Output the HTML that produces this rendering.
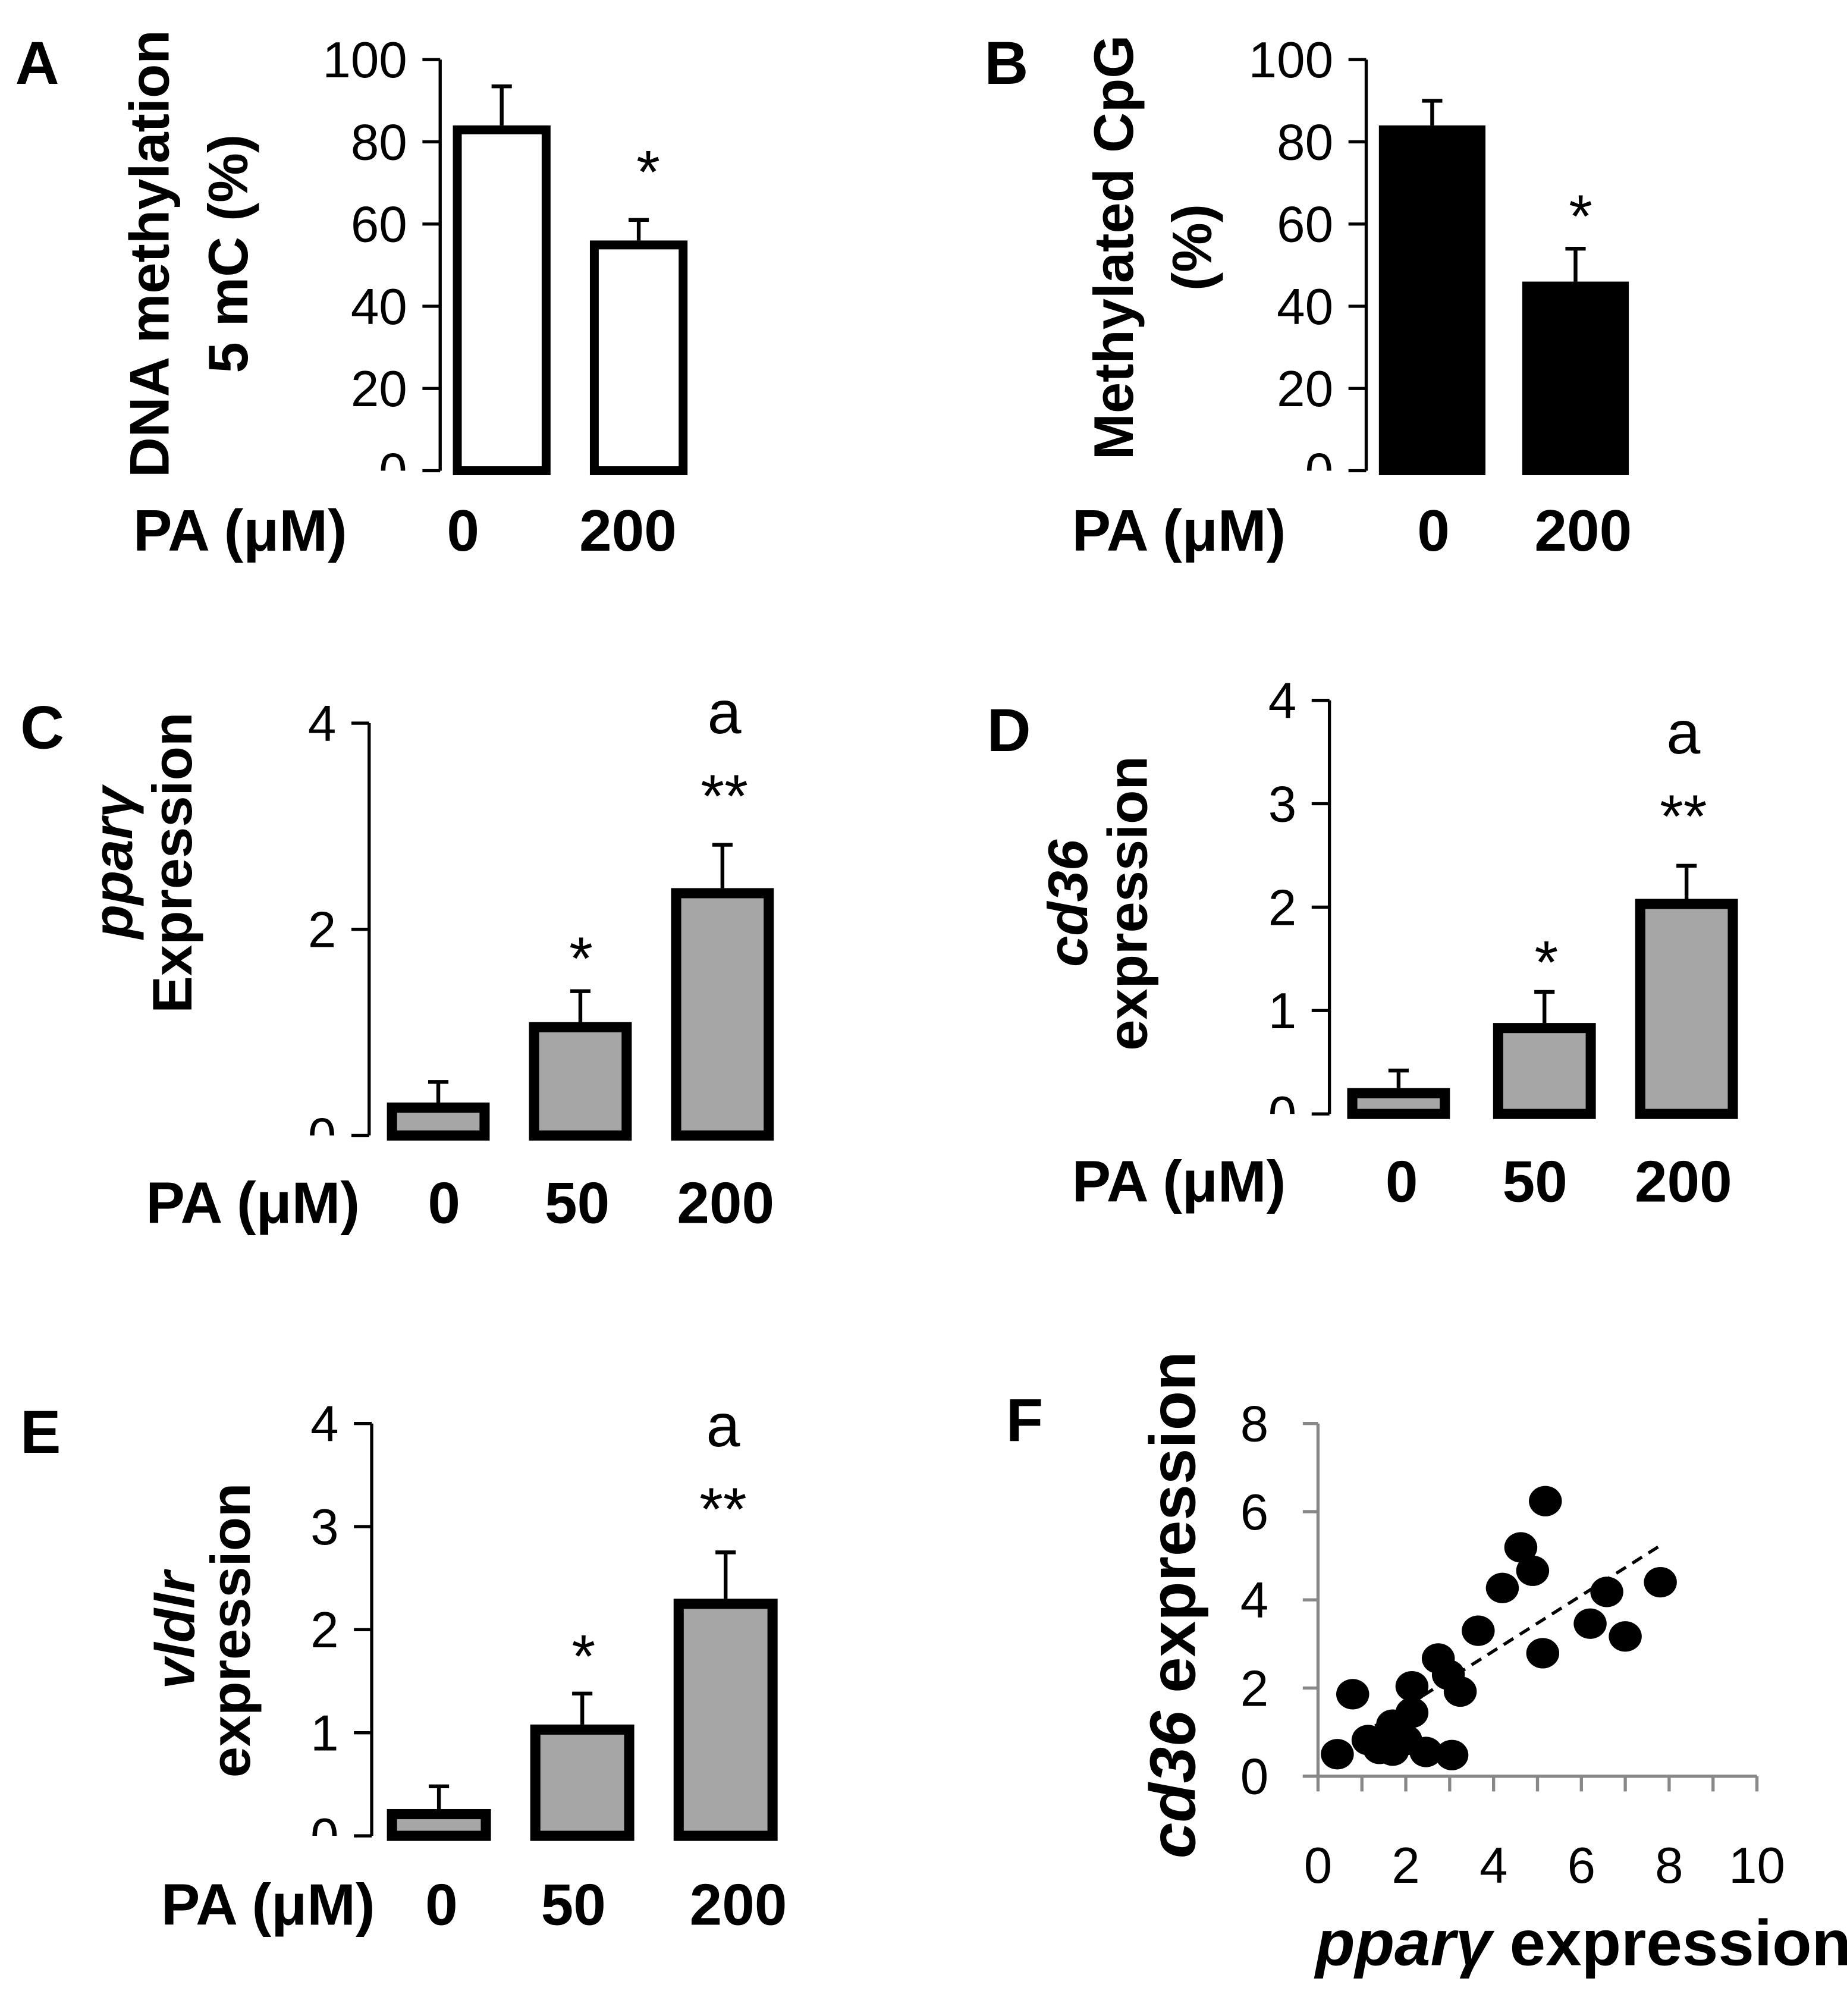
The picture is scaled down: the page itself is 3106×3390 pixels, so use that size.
<!DOCTYPE html>
<html><head><meta charset="utf-8"><style>
html,body{margin:0;padding:0;background:#fff}
svg{display:block}
text{font-family:"Liberation Sans",sans-serif}
.tk{font-size:40px;fill:#000}
.bl{font-size:46px;font-weight:bold}
.yt{font-size:44px;font-weight:bold}
.lt{font-size:48px;font-weight:bold}
.st{font-size:48px}
</style></head><body>
<svg id="fig" xmlns="http://www.w3.org/2000/svg" width="3106" height="3390" viewBox="0 0 1456 1589" preserveAspectRatio="none">
</svg>
<script>
const NS="http://www.w3.org/2000/svg";
const svg=document.getElementById('fig');
// ---- data ----
const aCats=["0","200"];const aVals=[84,56];const aErr=[93.5,61];const aTicks=[0,20,40,60,80,100];
const bCats=["0","200"];const bVals=[84,46];const bErr=[90,54];const bTicks=[0,20,40,60,80,100];
const cCats=["0","50","200"];const cVals=[0.32,1.1,2.4];const cErr=[0.52,1.4,2.82];const cTicks=[0,2,4];
const dCats=["0","50","200"];const dVals=[0.25,0.88,2.08];const dErr=[0.42,1.18,2.4];const dTicks=[0,1,2,3,4];
const eCats=["0","50","200"];const eVals=[0.26,1.08,2.3];const eErr=[0.48,1.38,2.75];const eTicks=[0,1,2,3,4];
const fX=[0.44,0.79,1.14,1.4,1.7,1.7,2.0,2.14,2.14,2.46,3.05,2.74,2.97,3.24,3.65,4.2,4.62,4.89,5.18,5.12,6.2,6.58,7.0,7.8];
const fY=[0.5,1.86,0.82,0.62,0.58,1.17,0.82,1.44,2.04,0.55,0.48,2.67,2.3,1.92,3.3,4.27,5.19,4.66,6.24,2.79,3.46,4.18,3.17,4.4];
const fXTicks=[0,2,4,6,8,10];const fYTicks=[0,2,4,6,8];
const fTrend=[1.3,7.8];
function el(tag,attrs,parent){const e=document.createElementNS(NS,tag);for(const k in attrs)e.setAttribute(k,attrs[k]);(parent||svg).appendChild(e);return e;}
function txt(s,attrs,parent){const t=el('text',attrs,parent);t.textContent=s;return t;}

function barPanel(o){
  const g=el('g',{});
  
  
  const y=v=>o.y0-(v-o.min)/(o.max-o.min)*(o.y0-o.y1);
  const clipId=o.name+'-clip';
  const cp=el('clipPath',{id:clipId},g);el('rect',{x:0,y:0,width:o.ax,height:o.y0},cp);
  const ax=el('path',{d:`M${o.ax} ${o.y1}V${o.y0}`,stroke:'#000','stroke-width':2.5,fill:'none'},g);
  
  
  o.ticks.forEach(t=>{
    const ty=y(t);
    const tl=el('line',{x1:o.ax-14,x2:o.ax,y1:ty,y2:ty,stroke:'#000','stroke-width':2.5},g);
    
    
    const lb=txt(String(t),{x:o.ax-26,y:ty+14,'text-anchor':'end',class:'tk','clip-path':'url(#'+clipId+')'},g);
    
    
  });
  o.vals.forEach((v,i)=>{
    const x=o.bx[i],w=o.bw,sw=o.sw;
    const eb=el('path',{d:`M${x+w/2} ${y(v)}V${y(o.err[i])}M${x+w/2-8} ${y(o.err[i])}H${x+w/2+8}`,stroke:'#000','stroke-width':3,fill:'none'},g);
    
    
    const r=el('rect',{x:x+sw/2,y:y(v)+sw/2,width:w-sw,height:Math.max(0,o.y0-y(v)-sw/2),fill:o.fill,stroke:'#000','stroke-width':sw},g);
    
    
    const cl=txt(o.cats[i],{x:o.cx[i],y:o.rowY,'text-anchor':'middle',class:'bl'},g);
    
    
  });
  const pa=txt('PA (μM)',{x:o.paX,y:o.rowY,class:'bl'},g);
  
  
  const L=txt(o.letter,{x:o.lx,y:o.ly,class:'lt'},g);
  
  
  o.title.forEach((ln,i)=>{
    const t=el('text',{transform:`translate(${ln.x},${ln.y}) rotate(-90)`,'text-anchor':'middle',class:'yt'},g);
    
    
    ln.parts.forEach(p=>{const s=el('tspan',p.it?{'font-style':'italic'}:{},t);s.textContent=p.s;});
  });
  (o.stars||[]).forEach(s=>{
    const t=txt(s.s,{x:s.x,y:s.y,'text-anchor':'middle',class:'st'},g);
    
    
  });
}
barPanel({name:'panel-a',letter:'A',lx:12,ly:66,ax:347,y0:371,y1:47,min:0,max:100,ticks:aTicks,vals:aVals,err:aErr,cats:aCats,
  bx:[357,465],bw:77,sw:7,fill:'#fff',cx:[365,495],rowY:434,paX:105,
  title:[{x:133,y:200,parts:[{s:'DNA methylation'}]},{x:195,y:200,parts:[{s:'5 mC (%)'}]}],
  stars:[{s:'*',x:511,y:152}]});
barPanel({name:'panel-b',letter:'B',lx:776,ly:66,ax:1077,y0:371,y1:47,min:0,max:100,ticks:bTicks,vals:bVals,err:bErr,cats:bCats,
  bx:[1087,1200],bw:84,sw:7,fill:'#000',cx:[1130,1248],rowY:434,paX:845,
  title:[{x:893,y:195,parts:[{s:'Methylated CpG'}]},{x:955,y:195,parts:[{s:'(%)'}]}],
  stars:[{s:'*',x:1246,y:187}]});
barPanel({name:'panel-c',letter:'C',lx:16,ly:590,ax:291,y0:895,y1:570,min:0,max:4,ticks:cTicks,vals:cVals,err:cErr,cats:cCats,
  bx:[305,417,529],bw:81,sw:8,fill:'#a6a6a6',cx:[350,455,572],rowY:964,paX:115,
  title:[{x:104,y:680,parts:[{s:'pparγ',it:true}]},{x:151,y:680,parts:[{s:'Expression'}]}],
  stars:[{s:'*',x:458,y:772},{s:'**',x:571,y:644},{s:'a',x:571,y:578}]});
barPanel({name:'panel-d',letter:'D',lx:778,ly:592,ax:1048,y0:878,y1:552,min:0,max:4,ticks:dTicks,vals:dVals,err:dErr,cats:dCats,
  bx:[1062,1177,1289],bw:81,sw:8,fill:'#a6a6a6',cx:[1105,1210,1327],rowY:947,paX:845,
  title:[{x:857,y:712,parts:[{s:'cd36',it:true}]},{x:904,y:712,parts:[{s:'expression'}]}],
  stars:[{s:'*',x:1219,y:775},{s:'**',x:1327,y:660},{s:'a',x:1327,y:594}]});
barPanel({name:'panel-e',letter:'E',lx:16,ly:1145,ax:293,y0:1447,y1:1122,min:0,max:4,ticks:eTicks,vals:eVals,err:eErr,cats:eCats,
  bx:[305,418,531],bw:82,sw:8,fill:'#a6a6a6',cx:[348,452,582],rowY:1517,paX:127,
  title:[{x:153,y:1285,parts:[{s:'vldlr',it:true}]},{x:197,y:1285,parts:[{s:'expression'}]}],
  stars:[{s:'*',x:460,y:1322},{s:'**',x:570,y:1206},{s:'a',x:570,y:1140}]});

// Panel F scatter
(function(){
  const g=el('g',{});
  
  
  const X0=1039,X1=1385,Y0=1400,Y1=1122;
  const sx=v=>X0+v/10*(X1-X0), sy=v=>Y0-v/8*(Y0-Y1);
  const ya=el('path',{d:`M${X0} ${Y1}V${Y0}`,stroke:'#888','stroke-width':2.5,fill:'none'},g);
  
  
  const xa=el('path',{d:`M${X0-12} ${Y0}H${X1}`,stroke:'#888','stroke-width':2.5,fill:'none'},g);
  
  
  for(let i=0;i<=10;i++){
    const t=el('line',{x1:sx(i),x2:sx(i),y1:Y0,y2:Y0+12,stroke:'#888','stroke-width':2.5},g);
    
    
  }
  fYTicks.forEach(v=>{
    const t=el('line',{x1:X0-12,x2:X0,y1:sy(v),y2:sy(v),stroke:'#888','stroke-width':2.5},g);
    
    
    const l=txt(String(v),{x:1000,y:sy(v)+14,'text-anchor':'end',class:'tk'},g);
    
    
  });
  fXTicks.forEach(v=>{
    const l=txt(String(v),{x:sx(v),y:1484,'text-anchor':'middle',class:'tk'},g);
    
    
  });
  const a=0.32,b=0.63;
  const tr=el('line',{x1:sx(fTrend[0]),y1:sy(a+b*fTrend[0]),x2:sx(fTrend[1]),y2:sy(a+b*fTrend[1]),stroke:'#000','stroke-width':2.5,'stroke-dasharray':'9 6'},g);
  
  
  fX.forEach((x,i)=>{
    const c=el('ellipse',{cx:sx(x),cy:sy(fY[i]),rx:13,ry:12,fill:'#000'},g);
    
    
  });
  const L=txt('F',{x:793,y:1136,class:'lt'},g);
  
  
  const xt=el('text',{x:1037,y:1549,'font-weight':'bold','font-size':'51'},g);
  
  
  const s1=el('tspan',{'font-style':'italic'},xt);s1.textContent='pparγ';
  const s2=el('tspan',{},xt);s2.textContent=' expression';
  const yt=el('text',{transform:'translate(942,1265) rotate(-90)','text-anchor':'middle','font-weight':'bold','font-size':'51'},g);
  
  
  const s3=el('tspan',{'font-style':'italic'},yt);s3.textContent='cd36';
  const s4=el('tspan',{},yt);s4.textContent=' expression';
})();
</script>
</body></html>
